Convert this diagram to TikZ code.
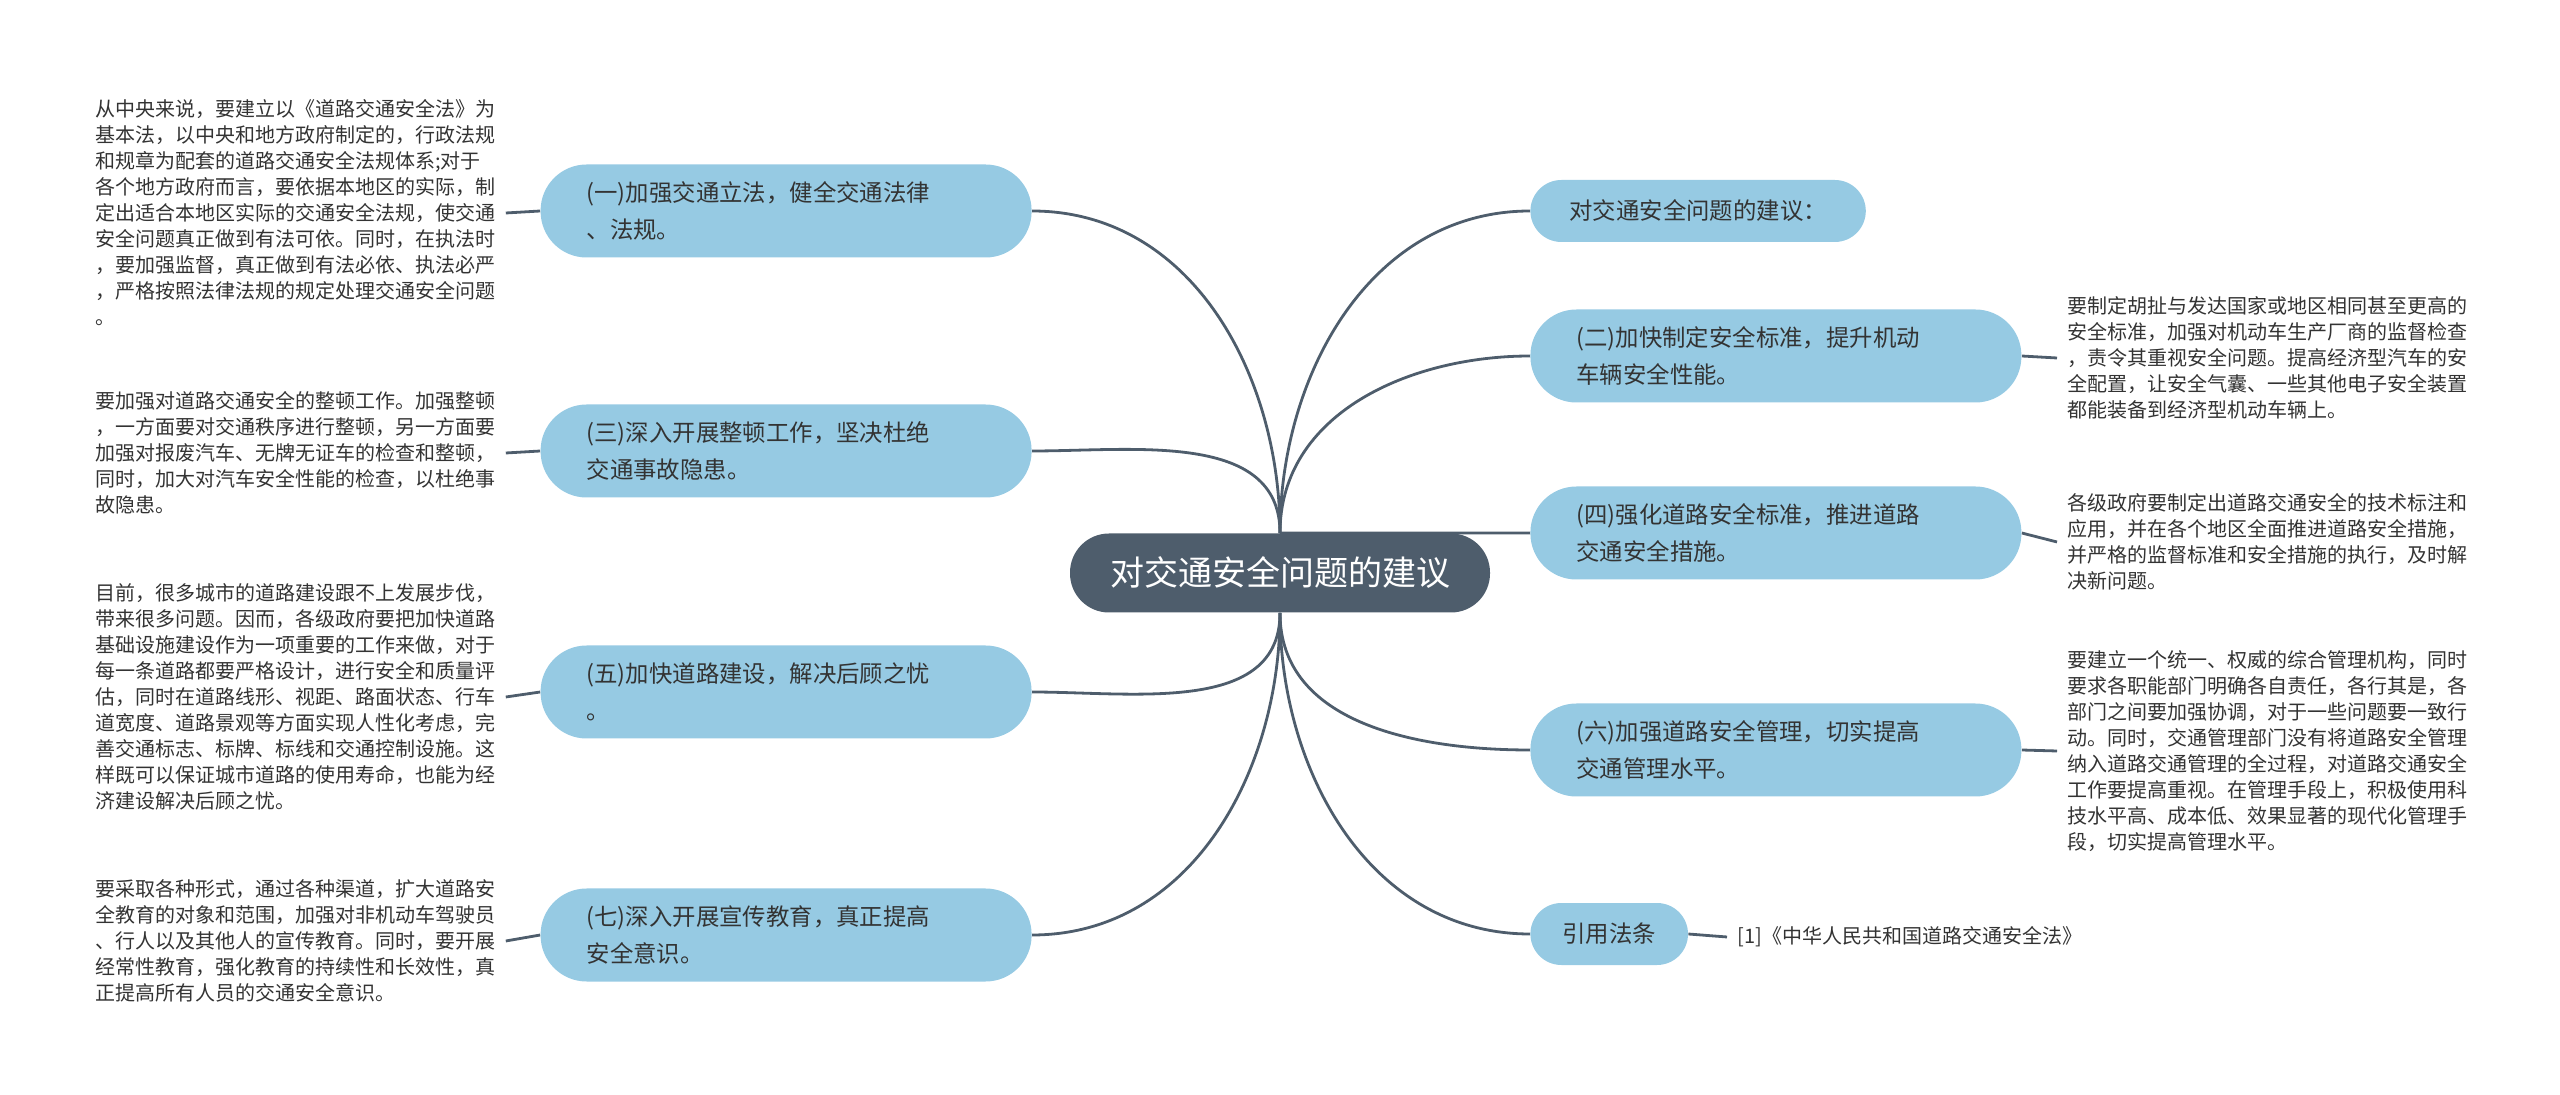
\documentclass[tikz,border=0pt]{standalone}
\usepackage{fontspec}
\setmainfont{Noto Sans CJK SC}
\usetikzlibrary{backgrounds}
\definecolor{hubgray}{HTML}{4E5D6C}
\definecolor{topicblue}{HTML}{96CAE3}
\definecolor{inkgray}{HTML}{333333}

\begin{document}
\begin{tikzpicture}[x=0.5pt, y=-0.5pt,
  hub/.style={fill=hubgray, text=white, rounded corners=19.5pt, minimum width=210pt, minimum height=39.5pt, font=\fontsize{17pt}{20pt}\selectfont},
  topic/.style={fill=topicblue, text=inkgray, rounded corners=23pt, text width=199.5pt, inner xsep=23pt, inner ysep=2pt, minimum height=46.5pt, align=left, font=\fontsize{11.7pt}{18.75pt}\selectfont},
  tag/.style={fill=topicblue, text=inkgray, rounded corners=15.5pt, minimum height=31pt, font=\fontsize{11.7pt}{14pt}\selectfont},
  note/.style={text=inkgray, align=left, inner sep=5pt, font=\fontsize{10pt}{13pt}\selectfont},
  link/.style={draw=hubgray, line width=1.4pt}]
  \useasboundingbox (0,0) rectangle (2560,1095);

  % Central topic
  \node[hub] (hub) at (1280, 573) {对交通安全问题的建议};

  % Left branches
  \node[topic, anchor=east] (t1) at (1032, 211) {(一)加强交通立法，健全交通法律\\、法规。};
  \node[topic, anchor=east] (t3) at (1032, 451) {(三)深入开展整顿工作，坚决杜绝\\交通事故隐患。};
  \node[topic, anchor=east] (t5) at (1032, 692) {(五)加快道路建设，解决后顾之忧\\。};
  \node[topic, anchor=east] (t7) at (1032, 935) {(七)深入开展宣传教育，真正提高\\安全意识。};

  % Right branches
  \node[tag, inner xsep=19.5pt, anchor=west] (t0) at (1530, 211) {对交通安全问题的建议：};
  \node[topic, anchor=west] (t2) at (1530, 356) {(二)加快制定安全标准，提升机动\\车辆安全性能。};
  \node[topic, anchor=west] (t4) at (1530, 533) {(四)强化道路安全标准，推进道路\\交通安全措施。};
  \node[topic, anchor=west] (t6) at (1530, 750) {(六)加强道路安全管理，切实提高\\交通管理水平。};
  \node[tag, inner xsep=16pt, anchor=west] (law) at (1530, 934) {引用法条};

  % Left notes
  \node[note, anchor=west] (n1) at (85, 213) {从中央来说，要建立以《道路交通安全法》为\\基本法，以中央和地方政府制定的，行政法规\\和规章为配套的道路交通安全法规体系;对于\\各个地方政府而言，要依据本地区的实际，制\\定出适合本地区实际的交通安全法规，使交通\\安全问题真正做到有法可依。同时，在执法时\\，要加强监督，真正做到有法必依、执法必严\\，严格按照法律法规的规定处理交通安全问题\\。};
  \node[note, anchor=west] (n3) at (85, 453) {要加强对道路交通安全的整顿工作。加强整顿\\，一方面要对交通秩序进行整顿，另一方面要\\加强对报废汽车、无牌无证车的检查和整顿，\\同时，加大对汽车安全性能的检查，以杜绝事\\故隐患。};
  \node[note, anchor=west] (n5) at (85, 697) {目前，很多城市的道路建设跟不上发展步伐，\\带来很多问题。因而，各级政府要把加快道路\\基础设施建设作为一项重要的工作来做，对于\\每一条道路都要严格设计，进行安全和质量评\\估，同时在道路线形、视距、路面状态、行车\\道宽度、道路景观等方面实现人性化考虑，完\\善交通标志、标牌、标线和交通控制设施。这\\样既可以保证城市道路的使用寿命，也能为经\\济建设解决后顾之忧。};
  \node[note, anchor=west] (n7) at (85, 941) {要采取各种形式，通过各种渠道，扩大道路安\\全教育的对象和范围，加强对非机动车驾驶员\\、行人以及其他人的宣传教育。同时，要开展\\经常性教育，强化教育的持续性和长效性，真\\正提高所有人员的交通安全意识。};

  % Right notes
  \node[note, anchor=west] (n2) at (2057, 358) {要制定胡扯与发达国家或地区相同甚至更高的\\安全标准，加强对机动车生产厂商的监督检查\\，责令其重视安全问题。提高经济型汽车的安\\全配置，让安全气囊、一些其他电子安全装置\\都能装备到经济型机动车辆上。};
  \node[note, anchor=west] (n4) at (2057, 542) {各级政府要制定出道路交通安全的技术标注和\\应用，并在各个地区全面推进道路安全措施，\\并严格的监督标准和安全措施的执行，及时解\\决新问题。};
  \node[note, anchor=west] (n6) at (2057, 751) {要建立一个统一、权威的综合管理机构，同时\\要求各职能部门明确各自责任，各行其是，各\\部门之间要加强协调，对于一些问题要一致行\\动。同时，交通管理部门没有将道路安全管理\\纳入道路交通管理的全过程，对道路交通安全\\工作要提高重视。在管理手段上，积极使用科\\技水平高、成本低、效果显著的现代化管理手\\段，切实提高管理水平。};
  \node[note, anchor=west] (ref) at (1727, 937) {[1]《中华人民共和国道路交通安全法》};

  % Connectors
  \begin{scope}[on background layer]
    \draw[link] (hub.north) to[out=90, in=0] (t1.east);
    \draw[link] (hub.north) to[out=90, in=0] (t3.east);
    \draw[link] (hub.south) to[out=-90, in=0] (t5.east);
    \draw[link] (hub.south) to[out=-90, in=0] (t7.east);
    \draw[link] (hub.north) to[out=90, in=180] (t0.west);
    \draw[link] (hub.north) to[out=90, in=180] (t2.west);
    \draw[link] (hub.north) -- (t4.west);
    \draw[link] (hub.south) to[out=-90, in=180] (t6.west);
    \draw[link] (hub.south) to[out=-90, in=180] (law.west);
    \draw[link] (n1.east) -- (t1.west);
    \draw[link] (n3.east) -- (t3.west);
    \draw[link] (n5.east) -- (t5.west);
    \draw[link] (n7.east) -- (t7.west);
    \draw[link] (t2.east) -- (n2.west);
    \draw[link] (t4.east) -- (n4.west);
    \draw[link] (t6.east) -- (n6.west);
    \draw[link] (law.east) -- (ref.west);
  \end{scope}
\end{tikzpicture}
\end{document}
